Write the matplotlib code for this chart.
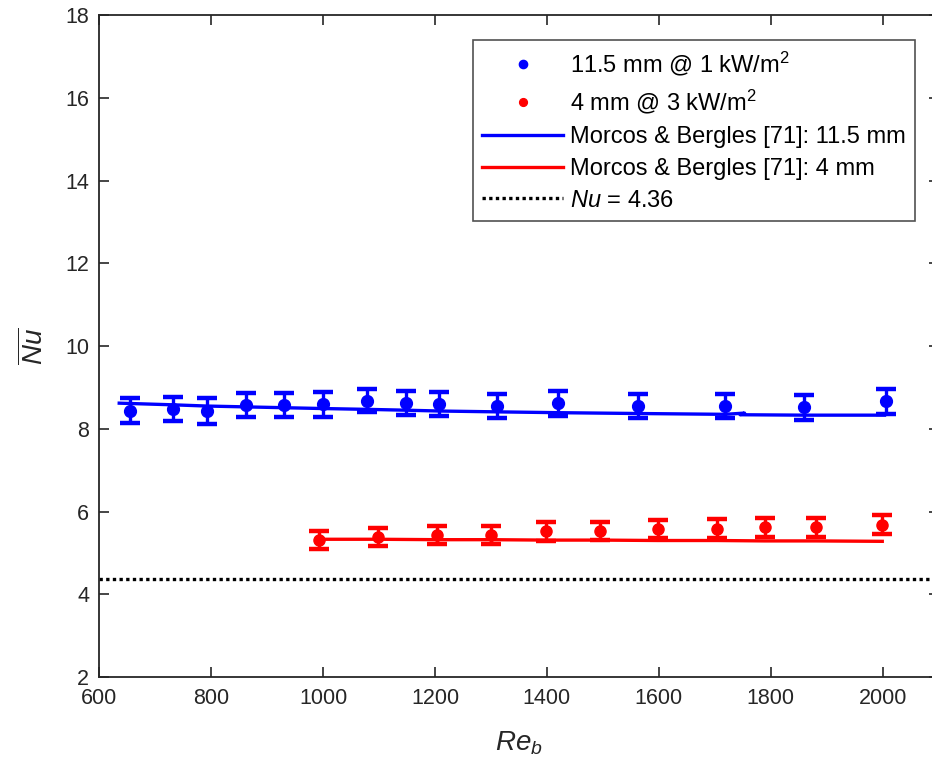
import matplotlib.pyplot as plt
import numpy as np

# --- data ---
# 11.5 mm @ 1 kW/m2
re_115 = [655, 732, 793, 862, 931, 1000, 1079, 1148, 1208, 1310, 1420, 1562, 1718, 1860, 2005]
nu_115 = [8.44, 8.48, 8.43, 8.57, 8.57, 8.59, 8.68, 8.62, 8.59, 8.55, 8.62, 8.55, 8.56, 8.52, 8.67]
err_115 = [0.30, 0.29, 0.32, 0.29, 0.29, 0.30, 0.28, 0.29, 0.29, 0.29, 0.30, 0.29, 0.29, 0.30, 0.30]

# 4 mm @ 3 kW/m2
re_4 = [992, 1098, 1204, 1300, 1398, 1495, 1598, 1704, 1789, 1880, 1998]
nu_4 = [5.31, 5.39, 5.43, 5.43, 5.52, 5.53, 5.58, 5.58, 5.62, 5.62, 5.68]
err_4 = [0.21, 0.22, 0.22, 0.22, 0.22, 0.22, 0.22, 0.23, 0.23, 0.23, 0.23]

# Morcos & Bergles correlation
mb_re_115 = [636, 732, 793, 862, 931, 1000, 1079, 1148, 1208, 1310, 1420, 1562, 1718, 1753, 1745, 1860, 2003]
mb_nu_115 = [8.62, 8.58, 8.55, 8.53, 8.51, 8.49, 8.47, 8.45, 8.43, 8.41, 8.39, 8.37, 8.35, 8.38, 8.34, 8.33, 8.33]
mb_re_4 = [989, 1098, 1204, 1300, 1398, 1495, 1598, 1704, 1789, 1880, 1999]
mb_nu_4 = [5.33, 5.33, 5.32, 5.32, 5.31, 5.31, 5.30, 5.30, 5.29, 5.29, 5.28]

NU_FD = 4.36

plt.rcParams['font.family'] = ['Liberation Sans', 'DejaVu Sans']
plt.rcParams['mathtext.fontset'] = 'custom'
plt.rcParams['mathtext.rm'] = 'Liberation Sans'
plt.rcParams['mathtext.it'] = 'Liberation Sans:italic'

fig = plt.figure(figsize=(9.32, 7.67), dpi=100)
ax = fig.add_axes([0.1063, 0.1173, 0.901, 0.863])

eb = dict(fmt='none', elinewidth=2.4, capsize=7, capthick=3.2)
ax.errorbar(re_115, nu_115, yerr=err_115, ecolor='#0000ff', **eb)
ax.errorbar(re_4, nu_4, yerr=err_4, ecolor='#ff0000', **eb)

ax.plot(re_115, nu_115, 'o', color='#0000ff', ms=8.5, label='11.5 mm @ 1 kW/m$^2$')
ax.plot(re_4, nu_4, 'o', color='#ff0000', ms=8.0, label='4 mm @ 3 kW/m$^2$')
ax.plot(mb_re_115, mb_nu_115, '-', color='#0000ff', lw=2.4, label='Morcos & Bergles [71]: 11.5 mm')
ax.plot(mb_re_4, mb_nu_4, '-', color='#ff0000', lw=2.4, label='Morcos & Bergles [71]: 4 mm')
ax.axhline(NU_FD, color='black', ls=(0, (1, 1)), lw=2.4, label='$Nu$ = 4.36')

ax.set_xlim(600, 2100)
ax.set_ylim(2, 18)
ax.set_xticks(np.arange(600, 2001, 200))
ax.set_yticks(np.arange(2, 19, 2))

axis_col = '#262626'
for s in ax.spines.values():
    s.set_color(axis_col)
    s.set_linewidth(1.3)
ax.tick_params(direction='in', length=7, width=1.2, colors=axis_col,
               labelsize=15.5, top=True, right=True)
ax.tick_params(axis='x', pad=8)
ax.tick_params(axis='y', pad=7)

ax.set_xlabel('$Re_b$', fontsize=20, color=axis_col, labelpad=15)
ax.set_ylabel(r'$\overline{Nu}$', fontsize=20, color=axis_col, labelpad=12)

leg = ax.legend(loc='upper left', bbox_to_anchor=(473 / 932, 1 - 40 / 767),
                bbox_transform=fig.transFigure, fontsize=17, frameon=True,
                fancybox=False, edgecolor='#262626', handlelength=3.4,
                handletextpad=0.3, labelspacing=0.42, markerscale=0.7,
                borderpad=0.4, borderaxespad=0)
leg.get_frame().set_linewidth(1.2)

fig.savefig('out.png', dpi=100)
